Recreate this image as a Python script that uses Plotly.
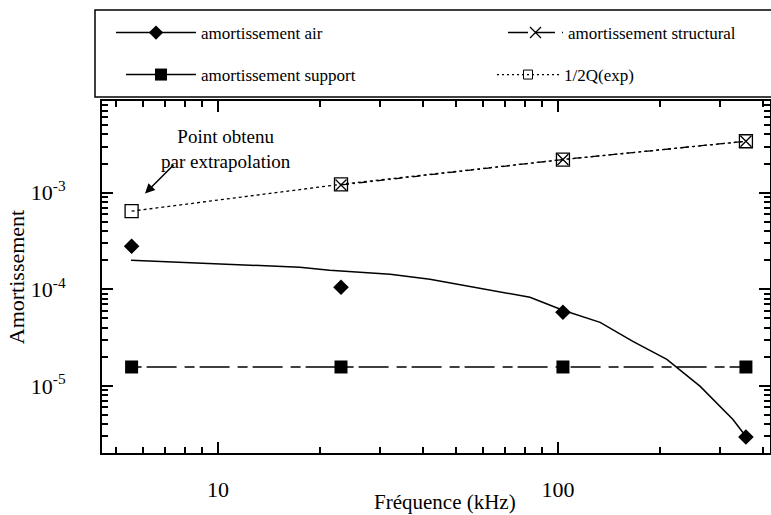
import plotly.graph_objects as go
import math

# ---- data ----
freq = [5.57, 23.0, 103.4, 357.0]
air_meas = [2.79e-4, 1.05e-4, 5.78e-5, 2.96e-6]
support = [1.57e-5, 1.57e-5, 1.57e-5, 1.57e-5]
q_exp = [6.43e-4, 1.22e-3, 2.2e-3, 3.4e-3]
struct_freq = [23.0, 103.4, 357.0]
structural = [1.2e-3, 2.2e-3, 3.4e-3]

air_model_freq = [5.55, 7.57, 10.34, 14.2, 17.4, 21.3, 26.2, 32.1, 42.0, 55.1,
                  67.5, 82.7, 103.4, 133, 166, 209, 262, 327, 357]
air_model = [2.0e-4, 1.905e-4, 1.815e-4, 1.73e-4, 1.69e-4, 1.575e-4, 1.50e-4,
             1.43e-4, 1.27e-4, 1.074e-4, 9.53e-5, 8.26e-5, 6.06e-5, 4.55e-5,
             2.89e-5, 1.88e-5, 9.9e-6, 4.5e-6, 3.0e-6]

x_ticks = [10, 100]
x_ticktext = ["10", "100"]
y_ticks = [1e-5, 1e-4, 1e-3]
y_ticktext = ["10<sup>-5</sup>", "10<sup>-4</sup>", "10<sup>-3</sup>"]

FONT = "Liberation Serif"
W, H = 771, 515
ML, MR, MT, MB = 102, 1, 101, 62

fig = go.Figure()

# air model curve
fig.add_trace(go.Scatter(x=air_model_freq, y=air_model, mode="lines",
                         line=dict(color="black", width=1.5), showlegend=False))
# air measured
fig.add_trace(go.Scatter(x=freq, y=air_meas, mode="markers",
                         marker=dict(symbol="diamond", size=12, color="black"),
                         showlegend=False))
# support
fig.add_trace(go.Scatter(x=freq, y=support, mode="lines+markers",
                         line=dict(color="black", width=1.5, dash="10px,5px,30px,8px"),
                         marker=dict(symbol="square", size=13, color="black"),
                         showlegend=False))
# 1/2Q exp
fig.add_trace(go.Scatter(x=freq, y=q_exp, mode="lines+markers",
                         line=dict(color="black", width=1.3, dash="3px,3px"),
                         marker=dict(symbol="square-open", size=13, color="black",
                                     line=dict(width=1.3)),
                         showlegend=False))
# structural
fig.add_trace(go.Scatter(x=struct_freq, y=structural, mode="lines+markers",
                         line=dict(color="black", width=1.3, dash="8px,4px,2px,4px"),
                         marker=dict(symbol="x-thin-open", size=11, color="black",
                                     line=dict(width=1.3, color="black")),
                         showlegend=False))

# legend entries (dummy traces), one legend per entry
fig.add_trace(go.Scatter(x=[None], y=[None], mode="lines+markers", name="amortissement air",
                         line=dict(color="black", width=1.5),
                         marker=dict(symbol="diamond", size=11, color="black"),
                         legend="legend"))
fig.add_trace(go.Scatter(x=[None], y=[None], mode="lines+markers", name="amortissement support",
                         line=dict(color="black", width=1.5),
                         marker=dict(symbol="square", size=12, color="black"),
                         legend="legend2"))
fig.add_trace(go.Scatter(x=[None], y=[None], mode="lines+markers", name="amortissement structural",
                         line=dict(color="black", width=1.5, dash="20px,7px"),
                         marker=dict(symbol="x-thin-open", size=11, color="black",
                                     line=dict(width=1.3, color="black")),
                         legend="legend3"))
fig.add_trace(go.Scatter(x=[None], y=[None], mode="lines+markers", name="1/2Q(exp)",
                         line=dict(color="black", width=1.2, dash="2px,3px"),
                         marker=dict(symbol="square-open", size=9, color="black",
                                     line=dict(width=1)),
                         legend="legend4"))

pw = W - ML - MR
ph = H - MT - MB
def px_x(p):
    return (p - ML) / pw
def px_y(p):
    return (H - MB - p) / ph

axis_common = dict(showline=True, linecolor="black", linewidth=2, mirror="allticks",
                   ticks="inside", ticklen=11, tickwidth=1.5, tickcolor="black",
                   showgrid=False, zeroline=False,
                   tickfont=dict(family=FONT, size=22, color="black"),
                   minor=dict(ticks="inside", ticklen=6, tickwidth=1.5, tickcolor="black",
                              dtick="D1", showgrid=False))

fig.update_xaxes(type="log", range=[0.6588, 2.6235], tickmode="array",
                 tickvals=x_ticks, ticktext=x_ticktext, ticklabelstandoff=16,
                 **axis_common)
fig.update_yaxes(type="log", range=[-5.694, -2.052], tickmode="array",
                 tickvals=y_ticks, ticktext=y_ticktext, ticklabelstandoff=30,
                 title=dict(text="Amortissement", font=dict(family=FONT, size=22, color="black"),
                            standoff=0),
                 **axis_common)

# legend frame
fig.add_shape(type="rect", xref="paper", yref="paper",
              x0=px_x(95), x1=px_x(772), y0=px_y(97), y1=px_y(10),
              line=dict(color="black", width=1.5), fillcolor="rgba(0,0,0,0)")

leg_font = dict(family=FONT, size=17, color="black")
def leg(text_start, row_y, itemw):
    return dict(x=px_x(text_start - itemw - 14), y=px_y(row_y), xanchor="left", yanchor="middle",
                font=leg_font, bgcolor="rgba(0,0,0,0)", itemwidth=itemw,
                orientation="h")

fig.update_layout(
    width=W, height=H,
    margin=dict(l=ML, r=MR, t=MT, b=MB, autoexpand=False),
    paper_bgcolor="white", plot_bgcolor="white",
    font=dict(family=FONT, color="black"),
    legend=leg(205, 33, 80),
    legend2=leg(205, 75, 70),
    legend3=leg(572, 33, 55),
    legend4=leg(568, 75, 62),
    annotations=[
        dict(xref="paper", yref="paper", x=px_x(445), y=px_y(502),
             text="Fréquence (kHz)", showarrow=False, xanchor="center", yanchor="middle",
             font=dict(family=FONT, size=21, color="black")),
        dict(xref="x", yref="y", x=math.log10(10.56), y=math.log10(2.86e-3),
             text="Point obtenu<br>par extrapolation", showarrow=False,
             font=dict(family=FONT, size=19, color="black"), align="center"),
        dict(xref="x", yref="y", x=math.log10(6.1), y=math.log10(9.8e-4),
             text="", showarrow=True, ax=30, ay=-30, arrowhead=2, arrowsize=1.3,
             arrowwidth=1.5, arrowcolor="black", standoff=0),
    ],
)

fig.write_html("out.html", config={"displayModeBar": False},
               post_script="document.body.style.margin='0px';document.body.style.padding='0px';")
